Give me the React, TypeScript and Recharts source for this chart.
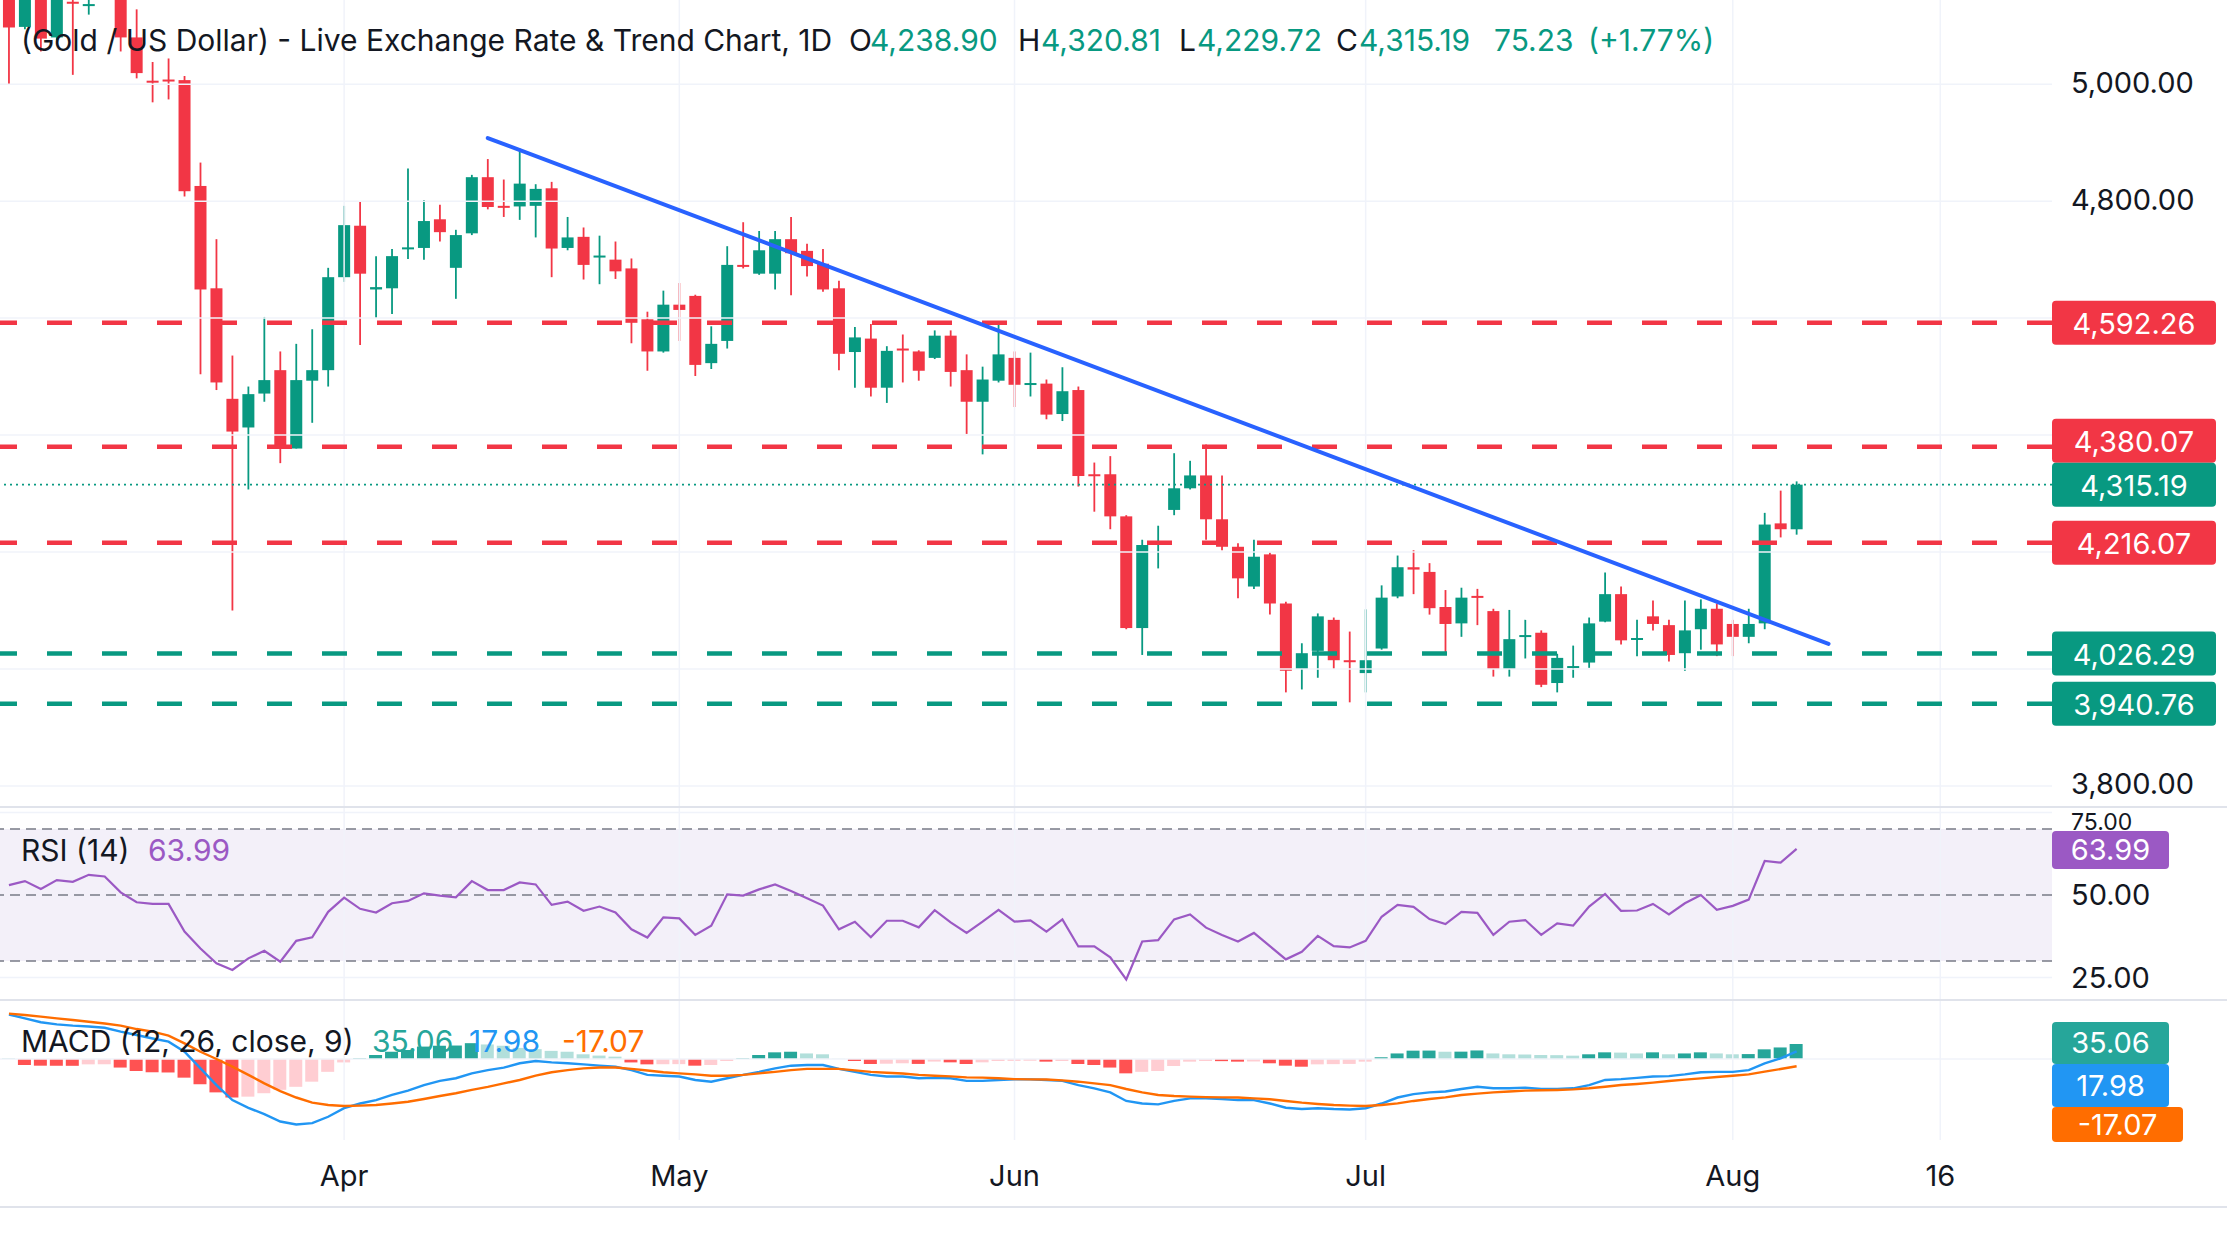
import React from 'react';
import {
  ComposedChart, Bar, Line, XAxis, YAxis, ReferenceLine, ReferenceArea, Cell,
} from 'recharts';

const W = 2227;
const AXIS_W = 175;
const X_DOMAIN: [number, number] = [-0.56, 128.0];
const FONT = "Inter, 'Noto Sans', sans-serif";
const UP = '#089981';
const DOWN = '#F23645';
const INK = '#131722';
const GRID = '#F0F3FA';
const RSI_COLOR = '#9B59C4';

// daily candles, Mar 3 -> Aug 7
const opens = [
  5170, 5098, 5165, 5080, 5141, 5134, 5160, 5160, 5080, 5006,
  5008, 5007, 4826, 4651, 4462, 4413, 4471, 4511, 4377, 4493,
  4511, 4670, 4758, 4649, 4651, 4718, 4720, 4769, 4686, 4745,
  4841, 4792, 4791, 4792, 4822, 4720, 4739, 4704, 4700, 4685,
  4598, 4543, 4623, 4638, 4523, 4561, 4691, 4676, 4676, 4735,
  4715, 4693, 4651, 4542, 4565, 4481, 4548, 4543, 4532, 4570,
  4511, 4457, 4493, 4532, 4486, 4488, 4436, 4477, 4333, 4333,
  4261, 4070, 4215, 4272, 4309, 4331, 4256, 4209, 4141, 4196,
  4112, 4000, 4031, 4084, 4015, 3993, 4035, 4124, 4174, 4166,
  4106, 4078, 4125, 4099, 4000, 4056, 4062, 3976, 4003, 4011,
  4081, 4128, 4051, 4090, 4075, 4027, 4068, 4103, 4077, 4055,
  4078, 4249, 4238.9,
];
const highs = [
  5185, 5175, 5180, 5170, 5146, 5146, 5190, 5170, 5128, 5038,
  5044, 5014, 4866, 4735, 4536, 4483, 4602, 4543, 4556, 4581,
  4686, 4792, 4799, 4706, 4718, 4856, 4802, 4794, 4751, 4845,
  4872, 4837, 4890, 4829, 4833, 4773, 4755, 4741, 4731, 4702,
  4611, 4647, 4660, 4640, 4586, 4723, 4764, 4749, 4749, 4773,
  4727, 4718, 4664, 4585, 4590, 4552, 4572, 4545, 4579, 4579,
  4538, 4517, 4595, 4543, 4541, 4495, 4516, 4483, 4353, 4364,
  4263, 4221, 4245, 4369, 4356, 4384, 4331, 4215, 4221, 4199,
  4115, 4044, 4095, 4088, 4064, 4102, 4143, 4194, 4203, 4181,
  4135, 4139, 4137, 4103, 4101, 4084, 4066, 4026, 4040, 4088,
  4165, 4141, 4084, 4117, 4084, 4117, 4119, 4112, 4084, 4103,
  4267, 4305, 4320.81,
];
const lows = [
  4999, 5094, 5056, 5075, 5016, 5119, 5150, 5056, 5010, 4969,
  4974, 4808, 4504, 4477, 4100, 4307, 4457, 4352, 4377, 4421,
  4483, 4662, 4554, 4600, 4607, 4701, 4700, 4731, 4633, 4742,
  4786, 4773, 4768, 4738, 4670, 4716, 4666, 4658, 4667, 4557,
  4510, 4541, 4561, 4501, 4513, 4548, 4685, 4674, 4649, 4639,
  4671, 4645, 4511, 4481, 4466, 4455, 4490, 4493, 4530, 4483,
  4402, 4367, 4490, 4448, 4466, 4427, 4424, 4312, 4269, 4239,
  4068, 4024, 4172, 4263, 4307, 4221, 4203, 4121, 4137, 4093,
  3960, 3965, 3985, 4000, 3943, 3960, 4033, 4121, 4128, 4093,
  4024, 4055, 4075, 3987, 3987, 4018, 3969, 3960, 3985, 4002,
  4080, 4042, 4022, 4066, 4013, 3997, 4033, 4022, 4022, 4044,
  4068, 4225, 4229.72,
];
const closes = [
  5097, 5160, 5078, 5150, 5139, 5137, 5175, 5080, 5019, 5003,
  5005, 4817, 4649, 4490, 4406, 4470, 4494, 4380, 4494, 4511,
  4670, 4759, 4676, 4653, 4706, 4721, 4766, 4747, 4742, 4841,
  4790, 4789, 4830, 4821, 4719, 4738, 4691, 4707, 4680, 4592,
  4543, 4623, 4614, 4520, 4556, 4691, 4688, 4716, 4735, 4711,
  4689, 4649, 4539, 4567, 4481, 4544, 4545, 4510, 4570, 4508,
  4457, 4495, 4538, 4486, 4489, 4435, 4475, 4330, 4331, 4261,
  4070, 4212, 4218, 4309, 4331, 4256, 4209, 4155, 4192, 4112,
  3997, 4027, 4090, 4015, 4013, 4015, 4122, 4174, 4170, 4104,
  4077, 4122, 4122, 4000, 4051, 4058, 3973, 4019, 4005, 4078,
  4128, 4049, 4053, 4077, 4024, 4066, 4103, 4042, 4055, 4077,
  4247, 4239, 4315.19,
];

const rsiValues = [
  53.0, 54.2, 51.8, 54.5, 54.0, 56.1, 55.6, 50.8, 47.8, 47.3,
  47.3, 38.9, 33.8, 29.3, 27.3, 30.8, 33.1, 29.8, 36.1, 37.2,
  44.9, 49.2, 45.8, 44.7, 47.5, 48.2, 50.5, 49.8, 49.3, 54.2,
  51.5, 51.5, 53.8, 53.2, 47.0, 48.0, 45.2, 46.5, 44.7, 39.6,
  37.1, 43.2, 42.9, 37.9, 40.7, 50.2, 49.8, 51.7, 53.2, 51.2,
  49.0, 46.8, 39.6, 41.9, 37.2, 42.2, 42.2, 40.2, 45.4, 41.7,
  38.5, 41.9, 45.5, 41.9, 42.3, 38.9, 42.6, 34.4, 34.4, 31.1,
  24.4, 35.9, 36.3, 42.6, 44.1, 40.1, 37.9, 35.9, 38.5, 34.5,
  30.5, 32.8, 37.6, 34.5, 34.1, 36.1, 43.4, 47.0, 46.4, 42.7,
  41.2, 44.9, 44.6, 37.9, 41.9, 42.4, 37.9, 41.4, 40.7, 46.5,
  50.3, 45.2, 45.3, 47.3, 44.1, 47.5, 50.0, 45.5, 46.7, 48.6,
  60.3, 59.8, 63.99,
];

const macdValues = [
  104, 95, 86, 81, 78, 76, 73, 64, 56, 48,
  40.5, 17, -22, -61, -96, -114, -129, -146, -153, -150,
  -135, -115, -104, -96, -84, -74, -61, -51, -45, -33.5,
  -26, -20, -10, -4.7, -7.8, -10, -12.5, -15.6, -18, -26,
  -37, -39, -41, -49, -53, -45, -37, -30, -22, -15.6,
  -14, -14, -23, -30, -37, -41, -41, -45, -44, -45,
  -51, -51, -49, -47.5, -47.5, -49, -51, -61, -68.5, -78,
  -98, -104, -106, -98, -92, -92, -93.5, -96, -96, -104,
  -114, -117, -115, -117, -118, -115, -104, -90, -82, -78,
  -76, -70, -65, -68.5, -68.5, -67, -70, -70, -68.5, -61,
  -49, -47, -44, -41, -40, -36, -31, -30, -30, -26,
  -10, 1.6, 17.98,
];
const signalValues = [
  106, 103, 99, 95, 91, 87, 83, 78, 70, 64,
  54.5, 36.6, 17, 0, -18, -37, -57, -75, -90, -102,
  -107.5, -110, -109, -107.5, -104, -100, -93.5, -86.5, -80, -72,
  -65, -57, -49, -39, -31, -26, -22, -20, -20, -23,
  -27, -31, -33.5, -36, -39, -39, -37, -33.5, -30, -26,
  -23, -23, -23, -26.5, -30, -32, -34, -37, -39, -40.5,
  -43, -43.6, -45, -47, -47.5, -48, -50, -53, -57, -61,
  -70, -78, -84, -86.5, -88, -89, -89.6, -90, -92, -94,
  -98, -102, -105, -107.5, -109, -110, -107.5, -103.6, -98, -93.5,
  -89.6, -84, -81, -78, -76, -74, -73, -72.4, -71, -68.5,
  -64.7, -60.8, -58.4, -55.3, -51.4, -48.3, -45.2, -42, -39, -35.8,
  -29.6, -23.4, -17.07,
];
const histValues = [
  2, -14, -15.6, -15.8, -15.9, -12.5, -12.3, -20, -28, -31,
  -31.5, -43.6, -59, -78, -90, -88, -80, -72, -65, -53,
  -30, -8, 1.5, 9.3, 17, 21, 29, 31, 31.5, 37,
  34, 31, 26, 23, 19, 17, 11, 8, 5.5, -8,
  -12.5, -12.2, -12, -15.6, -14, -4.7, 1.6, 9.3, 15.6, 17,
  13, 11, 0.5, -4.7, -11.7, -11, -10, -11.5, -6, -7.8,
  -11.7, -7.8, -4.7, -4.4, -4.0, -6.2, -4.7, -11.7, -14, -20,
  -33.5, -30, -28, -16.4, -6.2, -4.7, -5, -6.2, -5.8, -10,
  -15.6, -18, -12.5, -12, -11.5, -6.2, 4, 13, 19.5, 19.7,
  17, 17.2, 20, 13, 11, 10.5, 9.3, 9, 7.8, 11,
  15.6, 15, 13, 15.6, 11, 13, 15.6, 13, 11, 11.5,
  22.6, 27, 35.06,
];

const monthTicks = [21, 42, 63, 85, 108, 121];
const monthLabels = ['Apr', 'May', 'Jun', 'Jul', 'Aug', '16'];
const priceGrid = [3800, 4000, 4200, 4400, 4600, 4800, 5000];
const priceTicks = [3800, 4800, 5000];
const rsiTicks = [25, 50, 75];

const levelPrices = [4592.26, 4380.07, 4216.07, 4026.29, 3940.76];
const levelColors = [DOWN, DOWN, DOWN, UP, UP];
const levelShift = [0, -6, 0, 0, 0];
const lastPrice = 4315.19;
const trendStart = { x: 30, y: 4908 };
const trendEnd = { x: 114, y: 4043 };

const candles = opens.map((open, i) => ({
  i, open, high: highs[i], low: lows[i], close: closes[i],
}));
const rsiData = rsiValues.map((rsi, i) => ({ i, rsi }));
const macdData = macdValues.map((macd, i) => ({
  i, macd, signal: signalValues[i], hist: histValues[i],
}));

const histColor = (i: number) => {
  const v = histValues[i];
  const prev = i > 0 ? histValues[i - 1] : v;
  if (v >= 0) return v > prev ? '#26A69A' : '#B2DFDB';
  return v > prev ? '#FFCDD2' : '#FF5252';
};

const fmt = (v: number) =>
  v.toLocaleString('en-US', { minimumFractionDigits: 2, maximumFractionDigits: 2 });

function Candle(props: any) {
  const { x, y, width, height, payload } = props;
  if (x == null || !payload) return null;
  const top = height >= 0 ? y : y + height;
  const h = Math.abs(height);
  const { open, close, high, low } = payload;
  const py = (v: number) => top + ((high - v) / (high - low)) * h;
  const color = close >= open ? UP : DOWN;
  const cx = x + width / 2;
  const b1 = py(Math.max(open, close));
  const b2 = py(Math.min(open, close));
  return (
    <g>
      <line x1={cx} x2={cx} y1={top} y2={top + h} stroke={color} strokeWidth={1.8} />
      <rect x={x} y={b1} width={width} height={Math.max(b2 - b1, 2)} fill={color} />
    </g>
  );
}

function PriceTag(props: any) {
  const { viewBox, text, fill, shift = 0 } = props;
  if (!viewBox) return null;
  const x = viewBox.x + viewBox.width;
  const y = viewBox.y + shift;
  return (
    <g>
      <rect x={x} y={y - 22} width={164} height={44} rx={4} fill={fill} />
      <text x={x + 82} y={y + 1} fill="#fff" fontSize={29} fontFamily={FONT}
        textAnchor="middle" dominantBaseline="central">{text}</text>
    </g>
  );
}

const axisText = (label: string, y: number, size = 29) => (
  <text x={W - AXIS_W + 19} y={y} fill={INK} fontSize={size} fontFamily={FONT}
    dominantBaseline="central">{label}</text>
);

function Txt({ x, y, color = INK, size = 30, children }: any) {
  return (
    <div style={{
      position: 'absolute', left: x, top: y - 20, height: 40, lineHeight: '40px',
      fontSize: size, color, fontFamily: FONT, whiteSpace: 'nowrap',
    }}>{children}</div>
  );
}

function Tag({ x, y, w, h, bg, children }: any) {
  return (
    <div style={{
      position: 'absolute', left: x, top: y, width: w, height: h, background: bg,
      borderRadius: 4, color: '#fff', fontFamily: FONT, fontSize: 29,
      lineHeight: `${h}px`, textAlign: 'center',
    }}>{children}</div>
  );
}

const hLine = (y: number) => (
  <div style={{ position: 'absolute', left: 0, top: y, width: W, height: 2, background: '#E0E3EB' }} />
);

export default function App() {
  return (
    <div style={{ position: 'absolute', left: 0, top: 0, width: W, height: 1241, background: '#fff', overflow: 'hidden' }}>
      {/* price pane */}
      <div style={{ position: 'absolute', left: 0, top: 0 }}>
        <ComposedChart width={W} height={807} data={candles} margin={{ top: 0, right: 0, bottom: 0, left: 0 }}>
          <XAxis type="number" dataKey="i" domain={X_DOMAIN} allowDataOverflow hide />
          <YAxis orientation="right" width={AXIS_W} domain={[3764, 5144]} allowDataOverflow
            ticks={priceTicks} axisLine={false} tickLine={false}
            tick={(p: any) => axisText(fmt(p.payload.value), p.y - 2)} />
          {priceGrid.map((p) => <ReferenceLine key={'g' + p} y={p} stroke={GRID} strokeWidth={1.5} />)}
          {monthTicks.map((t) => <ReferenceLine key={'v' + t} x={t} stroke={GRID} strokeWidth={1.5} />)}
          {levelPrices.map((p, k) => (
            <ReferenceLine key={'l' + p} y={p} stroke={levelColors[k]} strokeWidth={4.5} strokeDasharray="25 30"
              label={<PriceTag text={fmt(p)} fill={levelColors[k]} shift={levelShift[k]} />} />
          ))}
          <ReferenceLine y={lastPrice} stroke={UP} strokeWidth={1.6} strokeDasharray="2 4"
            label={<PriceTag text={fmt(lastPrice)} fill={UP} />} />
          <Bar dataKey={(d: any) => [d.low, d.high]} shape={<Candle />} barSize={12} isAnimationActive={false} />
          <ReferenceLine segment={[trendStart, trendEnd]} stroke="#2962FF" strokeWidth={4} strokeLinecap="round" />
        </ComposedChart>
      </div>

      {/* RSI pane */}
      <div style={{ position: 'absolute', left: 0, top: 808 }}>
        <ComposedChart width={W} height={191} data={rsiData} margin={{ top: 0, right: 0, bottom: 0, left: 0 }}>
          <XAxis type="number" dataKey="i" domain={X_DOMAIN} allowDataOverflow hide />
          <YAxis orientation="right" width={AXIS_W} domain={[18.48, 76.36]} allowDataOverflow
            ticks={rsiTicks} axisLine={false} tickLine={false}
            tick={(p: any) => (p.payload.value === 75
              ? axisText('75.00', p.y + 5, 23)
              : axisText(p.payload.value.toFixed(2), p.y))} />
          <ReferenceArea y1={30} y2={70} fill="#7E57C2" fillOpacity={0.09} stroke="none" />
          <ReferenceLine y={25} stroke={GRID} strokeWidth={1.5} />
          <ReferenceLine y={75} stroke={GRID} strokeWidth={1.5} />
          {monthTicks.map((t) => <ReferenceLine key={'v' + t} x={t} stroke={GRID} strokeWidth={1.5} />)}
          {[70, 50, 30].map((v) => (
            <ReferenceLine key={'r' + v} y={v} stroke="#787B86" strokeWidth={1.6} strokeDasharray="10 6" />
          ))}
          <Line dataKey="rsi" stroke={RSI_COLOR} strokeWidth={2.2} dot={false} isAnimationActive={false} />
        </ComposedChart>
      </div>

      {/* MACD pane + dates */}
      <div style={{ position: 'absolute', left: 0, top: 1000 }}>
        <ComposedChart width={W} height={207} data={macdData} margin={{ top: 0, right: 0, bottom: 0, left: 0 }}>
          <XAxis type="number" dataKey="i" domain={X_DOMAIN} allowDataOverflow height={67}
            ticks={monthTicks} interval={0} axisLine={false} tickLine={false}
            tick={(p: any) => (
              <text x={p.x} y={175} fill={INK} fontSize={29} fontFamily={FONT}
                textAnchor="middle" dominantBaseline="central">
                {monthLabels[monthTicks.indexOf(p.payload.value)]}
              </text>
            )} />
          <YAxis orientation="right" width={AXIS_W} domain={[-189.3, 137.9]} allowDataOverflow
            ticks={[]} axisLine={false} tickLine={false} />
          <ReferenceLine y={0} stroke={GRID} strokeWidth={1.5} />
          {monthTicks.map((t) => <ReferenceLine key={'v' + t} x={t} stroke={GRID} strokeWidth={1.5} />)}
          <Bar dataKey="hist" barSize={13} isAnimationActive={false}>
            {macdData.map((d) => <Cell key={d.i} fill={histColor(d.i)} />)}
          </Bar>
          <Line dataKey="macd" stroke="#2196F3" strokeWidth={2.4} dot={false} isAnimationActive={false} />
          <Line dataKey="signal" stroke="#FF6D00" strokeWidth={2.4} dot={false} isAnimationActive={false} />
        </ComposedChart>
      </div>

      {hLine(806)}
      {hLine(999)}
      {hLine(1206)}

      {/* legends */}
      <Txt x={21} y={40}>(Gold / US Dollar) - Live Exchange Rate &amp; Trend Chart, 1D</Txt>
      <Txt x={849} y={40}>O</Txt>
      <Txt x={870} y={40} color={UP}>4,238.90</Txt>
      <Txt x={1018} y={40}>H</Txt>
      <Txt x={1041} y={40} color={UP}>4,320.81</Txt>
      <Txt x={1179} y={40}>L</Txt>
      <Txt x={1197} y={40} color={UP}>4,229.72</Txt>
      <Txt x={1336} y={40}>C</Txt>
      <Txt x={1359} y={40} color={UP}>4,315.19</Txt>
      <Txt x={1494} y={40} color={UP}>75.23</Txt>
      <Txt x={1588} y={40} color={UP}>(+1.77%)</Txt>

      <Txt x={21} y={850}>RSI (14)</Txt>
      <Txt x={148} y={850} color={RSI_COLOR}>63.99</Txt>
      <Txt x={21} y={1041}>MACD (12, 26, close, 9)</Txt>
      <Txt x={372} y={1041} color="#26A69A">35.06</Txt>
      <Txt x={469} y={1041} color="#2196F3">17.98</Txt>
      <Txt x={562} y={1041} color="#FF6D00">-17.07</Txt>

      <Tag x={2052} y={831} w={117} h={38} bg={RSI_COLOR}>63.99</Tag>
      <Tag x={2052} y={1022} w={117} h={42} bg="#26A69A">35.06</Tag>
      <Tag x={2052} y={1064} w={117} h={43} bg="#2196F3">17.98</Tag>
      <Tag x={2052} y={1107} w={131} h={35} bg="#FF6D00">-17.07</Tag>
    </div>
  );
}
